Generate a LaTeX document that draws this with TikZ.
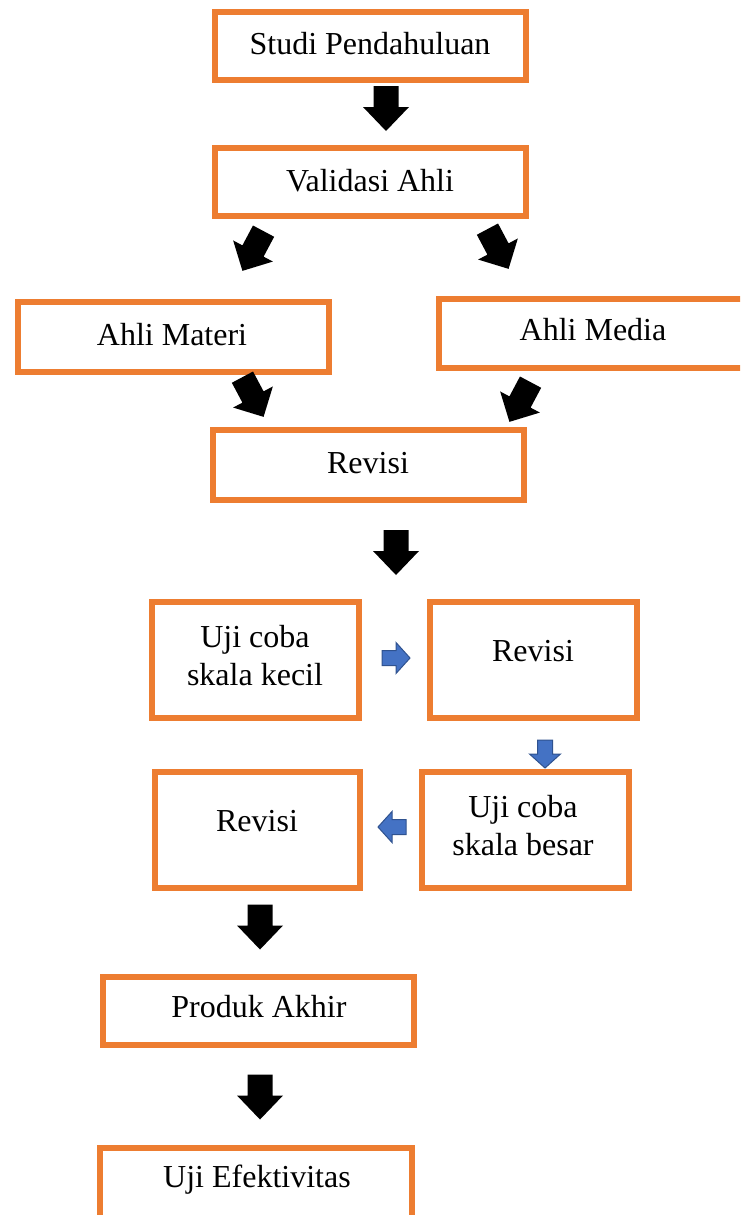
\documentclass[tikz,border=0pt]{standalone}
\usepackage{fontspec}
\setmainfont{Liberation Serif}
\definecolor{boxorange}{HTML}{ED7D31}
\definecolor{arrblue}{HTML}{4472C4}
\definecolor{arrblueline}{HTML}{2F528F}
\begin{document}
\begin{tikzpicture}[x=1pt,y=-1pt,
  box/.style={draw=boxorange,line width=6pt,fill=white,inner sep=0pt,rectangle},
  lbl/.style={font=\fontsize{32}{38}\selectfont,inner sep=0pt,align=center},
  blkdown/.pic={\fill[black] (-12.5,-22.5) -- (12.5,-22.5) -- (12.5,-1.5) -- (23,-1.5) -- (0,22.5) -- (-23,-1.5) -- (-12.5,-1.5) -- cycle;},
  blkdiag/.pic={\fill[black] (-12,-22.5) -- (12,-22.5) -- (12,0) -- (22.5,0) -- (0,22.5) -- (-22.5,0) -- (-12,0) -- cycle;},
  bluearr/.pic={\filldraw[fill=arrblue,draw=arrblueline,line width=1pt,line join=miter] (-7.5,-14) -- (7.5,-14) -- (7.5,0) -- (15.5,0) -- (0,14) -- (-15.5,0) -- (-7.5,0) -- cycle;}
]
\useasboundingbox (0,0) rectangle (740,1215);
\clip (0,0) rectangle (740,1215);

% boxes
\node[box,minimum width=311pt,minimum height=68pt] (b1) at (370.5,46) {};
\node[box,minimum width=311pt,minimum height=68pt] (b2) at (370.5,182) {};
\node[box,minimum width=311pt,minimum height=70pt] (b3) at (173.5,337) {};
\node[box,minimum width=321pt,minimum height=69pt] (b4) at (599.5,333.5) {};
\node[box,minimum width=311pt,minimum height=70pt] (b5) at (368.5,465) {};
\node[box,minimum width=207pt,minimum height=116pt] (b6) at (255.5,660) {};
\node[box,minimum width=207pt,minimum height=116pt] (b7) at (533.5,660) {};
\node[box,minimum width=205pt,minimum height=116pt] (b8) at (257.5,830) {};
\node[box,minimum width=207pt,minimum height=116pt] (b9) at (525.5,830) {};
\node[box,minimum width=311pt,minimum height=68pt] (b10) at (258.5,1011) {};
\node[box,minimum width=312pt,minimum height=92pt] (b11) at (256,1194) {};

% labels
\node[lbl] (t1) at (370,44) {Studi Pendahuluan};
\node[lbl] (t2) at (370,181) {Validasi Ahli};
\node[lbl] (t3) at (172,335) {Ahli Materi};
\node[lbl] (t4) at (593,330) {Ahli Media};
\node[lbl] (t5) at (368,463) {Revisi};
\node[lbl] (t6) at (255,656) {Uji coba\\skala kecil};
\node[lbl] (t7) at (533,651) {Revisi};
\node[lbl] (t8) at (257,821) {Revisi};
\node[lbl] (t9) at (523,825.5) {Uji coba\\skala besar};
\node[lbl] (t10) at (259,1007) {Produk Akhir};
\node[lbl] (t11) at (257,1180) {Uji Efektivitas};

% black block arrows
\pic at (386,108.5) {blkdown};
\pic[rotate=-28] at (253,251) {blkdiag};
\pic[rotate=28] at (498,249) {blkdiag};
\pic[rotate=28] at (253,397) {blkdiag};
\pic[rotate=-28] at (520,402) {blkdiag};
\pic at (396,552.5) {blkdown};
\pic at (260,927) {blkdown};
\pic at (260,1097) {blkdown};

% blue arrows
\pic[rotate=90] at (396,658) {bluearr};
\pic at (545,754) {bluearr};
\pic[rotate=-90] at (392,827) {bluearr};
\end{tikzpicture}
\end{document}
